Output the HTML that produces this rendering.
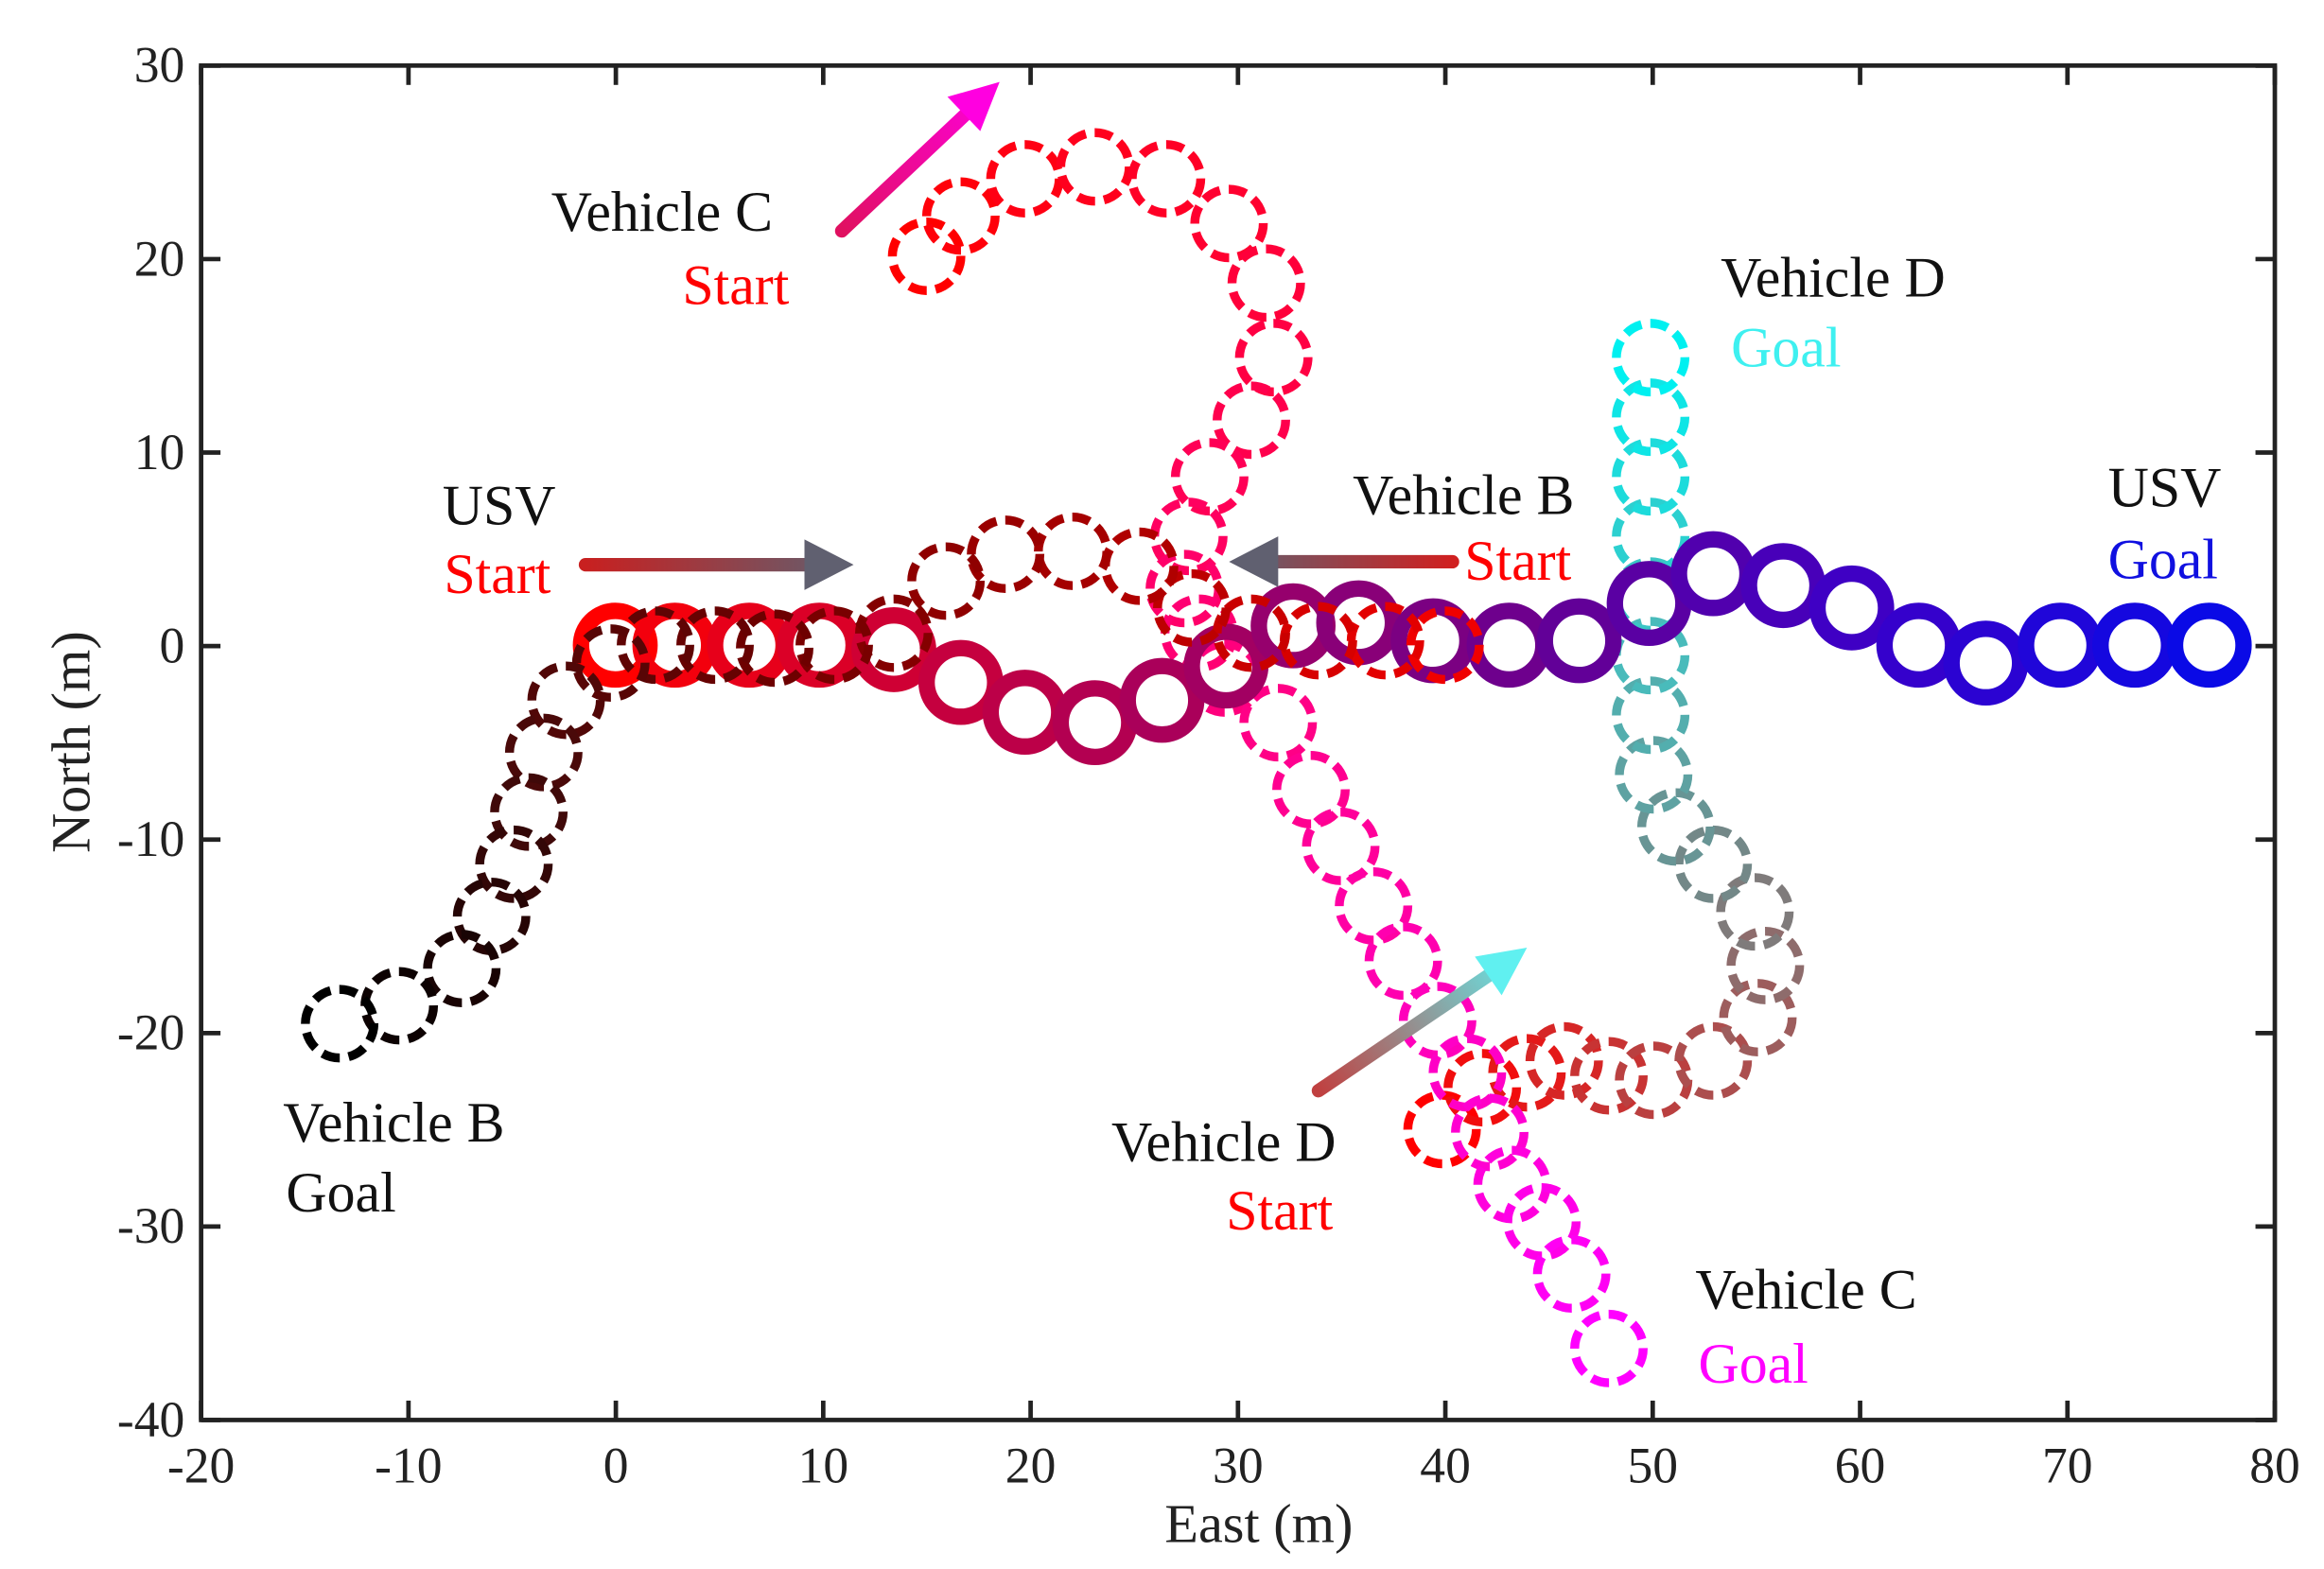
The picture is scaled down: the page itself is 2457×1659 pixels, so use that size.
<!DOCTYPE html>
<html><head><meta charset="utf-8"><style>
html,body{margin:0;padding:0;background:#fff;}
svg{display:block;}
text{font-family:"Liberation Serif",serif;}
</style></head><body>
<svg id="s" width="2457" height="1659" viewBox="0 0 1560 1053" preserveAspectRatio="none" xmlns="http://www.w3.org/2000/svg">
<defs>
<linearGradient id="gU" gradientUnits="userSpaceOnUse" x1="393" y1="379" x2="573" y2="379"><stop offset="0" stop-color="#c82020"/><stop offset="1" stop-color="#606070"/></linearGradient>
<linearGradient id="gB" gradientUnits="userSpaceOnUse" x1="975" y1="377" x2="825" y2="377"><stop offset="0" stop-color="#d02020"/><stop offset="1" stop-color="#606070"/></linearGradient>
<linearGradient id="gC" gradientUnits="userSpaceOnUse" x1="565" y1="155" x2="670" y2="55"><stop offset="0" stop-color="#e01060"/><stop offset="1" stop-color="#ff00e0"/></linearGradient>
<linearGradient id="gD" gradientUnits="userSpaceOnUse" x1="885" y1="732" x2="1025" y2="636"><stop offset="0" stop-color="#c04040"/><stop offset="1" stop-color="#60f0f0"/></linearGradient>
</defs>
<g id="paths"></g>
<line x1="393" y1="379" x2="545" y2="379" stroke="url(#gU)" stroke-width="9" stroke-linecap="round"/>
<polygon points="540,362 573,379 540,396" fill="#606070"/>
<line x1="975" y1="377" x2="853" y2="377" stroke="url(#gB)" stroke-width="9" stroke-linecap="round"/>
<polygon points="858,360 825,377 858,394" fill="#606070"/>
<line x1="565" y1="155" x2="650" y2="75" stroke="url(#gC)" stroke-width="9" stroke-linecap="round"/>
<polygon points="636,65 671,55 658,88" fill="#ff00e0"/>
<line x1="885" y1="732" x2="1003" y2="652" stroke="url(#gD)" stroke-width="9" stroke-linecap="round"/>
<polygon points="990,642 1025,636 1008,668" fill="#60f0f0"/>
<rect x="135" y="44" width="1392" height="909" fill="none" stroke="#222" stroke-width="3"/>
<g id="ticks" stroke="#222" stroke-width="3"></g>
<g font-size="34" fill="#222" id="tl"></g>
<text x="845" y="1035" font-size="37" text-anchor="middle" fill="#222">East (m)</text>
<text transform="translate(60,498) rotate(-90)" font-size="37" text-anchor="middle" fill="#222">North (m)</text>
<g font-size="38">
<text x="370" y="155" fill="#111">Vehicle C</text>
<text x="458" y="204" fill="#f00">Start</text>
<text x="297" y="352" fill="#111">USV</text>
<text x="298" y="398" fill="#f00">Start</text>
<text x="908" y="345" fill="#111">Vehicle B</text>
<text x="983" y="389" fill="#f00">Start</text>
<text x="1155" y="199" fill="#111">Vehicle D</text>
<text x="1162" y="246" fill="#3ef0f0">Goal</text>
<text x="1415" y="340" fill="#111">USV</text>
<text x="1415" y="388" fill="#1010e0">Goal</text>
<text x="190" y="766" fill="#111">Vehicle B</text>
<text x="192" y="813" fill="#111">Goal</text>
<text x="746" y="779" fill="#111">Vehicle D</text>
<text x="823" y="825" fill="#f00">Start</text>
<text x="1138" y="878" fill="#111">Vehicle C</text>
<text x="1140" y="928" fill="#ff00ff">Goal</text>
</g>
<script>
var NS="http://www.w3.org/2000/svg";
function lerp(cs,t){var n=cs.length-1,i=Math.min(n-1,Math.floor(t*n)),f=t*n-i,a=cs[i],b=cs[i+1];
return "rgb("+[0,1,2].map(function(k){return Math.round(a[k]+(b[k]-a[k])*f)}).join(",")+")";}
function draw(pts,cols,w,dash){var g=document.getElementById("paths");
pts.forEach(function(p,i){var c=document.createElementNS(NS,"circle");c.setAttribute("cx",p[0]);c.setAttribute("cy",p[1]);c.setAttribute("r",23);
c.setAttribute("fill","none");c.setAttribute("stroke",lerp(cols,i/(pts.length-1)));c.setAttribute("stroke-width",w);if(dash)c.setAttribute("stroke-dasharray",dash);g.appendChild(c);});}
draw([[968,758],[995,730],[1025,720],[1050,712],[1080,722],[1110,725],[1150,712],[1180,683],[1185,648],[1178,612],[1150,580],[1125,555],[1110,520],[1108,480],[1108,440],[1108,400],[1108,360],[1108,320],[1108,280],[1108,240]],
[[255,0,0],[190,60,60],[120,130,130],[70,190,190],[0,240,240]],6,"12 6");
draw([[622,172],[645,145],[688,120],[735,112],[783,120],[825,150],[850,190],[855,240],[840,282],[812,320],[798,360],[795,395],[805,425],[822,455],[858,485],[880,530],[900,568],[922,608],[942,645],[965,685],[985,720],[1000,760],[1015,795],[1035,820],[1055,855],[1080,905]],
[[255,0,0],[255,0,80],[255,0,160],[255,0,255]],6,"12 6");
draw([[413,433],[453,433],[503,433],[550,433],[600,436],[645,458],[688,478],[735,485],[780,470],[823,447],[868,420],[912,418],[962,430],[1013,433],[1060,430],[1107,405],[1150,385],[1197,393],[1243,408],[1288,433],[1333,445],[1383,433],[1433,433],[1483,433]],
[[255,0,0],[200,0,60],[160,0,100],[100,0,150],[60,0,200],[10,10,230]],11,null);
draw([[970,433],[930,430],[885,430],[840,425],[800,408],[765,380],[720,370],[675,372],[635,390],[600,425],[560,433],[520,435],[480,433],[440,433],[410,445],[380,470],[365,505],[355,545],[345,580],[330,615],[310,650],[268,675],[228,687]],
[[240,0,0],[170,0,0],[110,0,0],[70,10,10],[0,0,0]],6,"12 6");
var tk=document.getElementById("ticks"),tl=document.getElementById("tl");
for(var v=-20;v<=80;v+=10){var x=135+(v+20)*13.92;
[[x,953,x,940],[x,44,x,57]].forEach(function(a){var l=document.createElementNS(NS,"line");l.setAttribute("x1",a[0]);l.setAttribute("y1",a[1]);l.setAttribute("x2",a[2]);l.setAttribute("y2",a[3]);tk.appendChild(l);});
var t=document.createElementNS(NS,"text");t.setAttribute("x",x);t.setAttribute("y",995);t.setAttribute("text-anchor","middle");t.textContent=v;tl.appendChild(t);}
for(var v=-40;v<=30;v+=10){var y=433.6-v*12.986;
[[135,y,148,y],[1527,y,1514,y]].forEach(function(a){var l=document.createElementNS(NS,"line");l.setAttribute("x1",a[0]);l.setAttribute("y1",a[1]);l.setAttribute("x2",a[2]);l.setAttribute("y2",a[3]);tk.appendChild(l);});
var t=document.createElementNS(NS,"text");t.setAttribute("x",124);t.setAttribute("y",y+11);t.setAttribute("text-anchor","end");t.textContent=v;tl.appendChild(t);}
</script>
</svg>
</body></html>
